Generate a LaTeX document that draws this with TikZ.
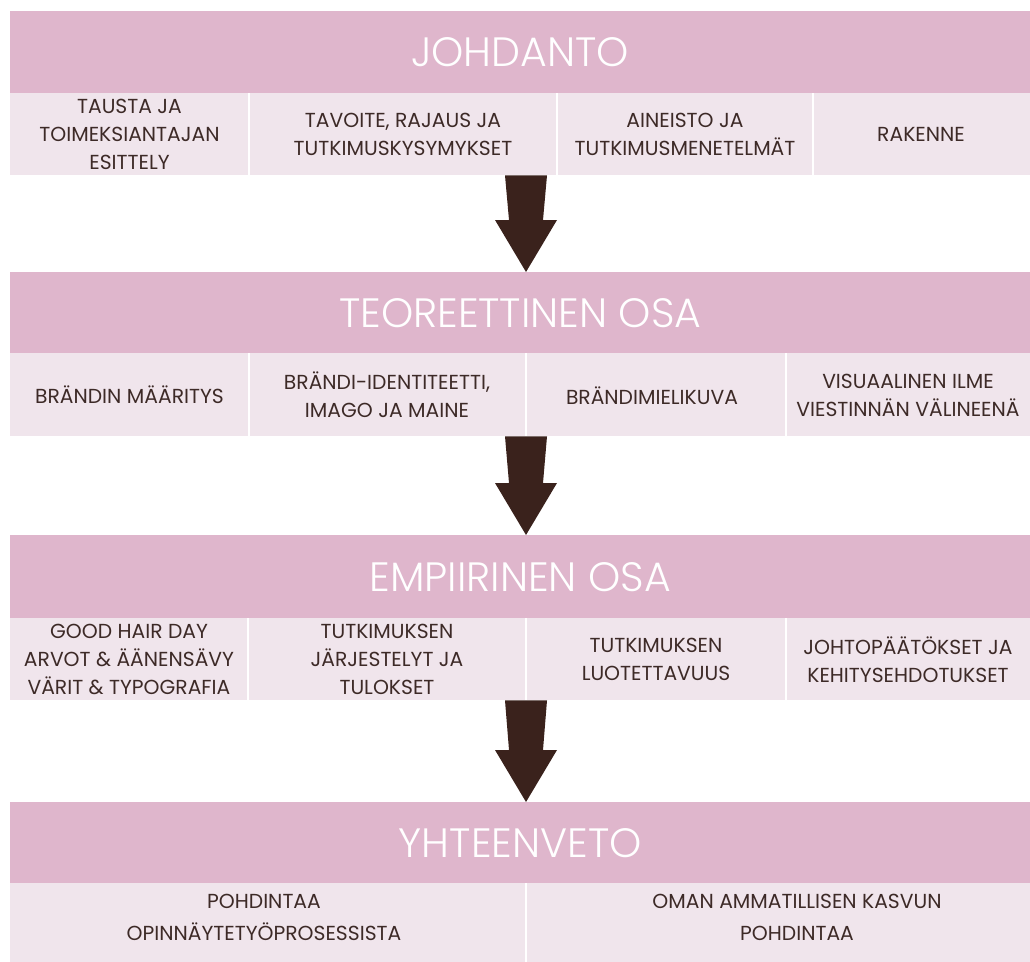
\documentclass[tikz,border=0pt]{standalone}
\usepackage{fontspec}
\setmainfont{Poppins}
\newfontfamily\headfont{Poppins Light}
\newfontfamily\cellfont{Poppins}
\usetikzlibrary{calc}
\definecolor{hdr}{HTML}{DFB6CC}
\definecolor{cellbg}{HTML}{F0E5EC}
\definecolor{arr}{HTML}{3A221C}
\definecolor{txt}{HTML}{3D2A27}
\begin{document}
\begin{tikzpicture}[x=1pt,y=-1pt,
  header/.style={fill=hdr, anchor=north west, inner sep=0pt, minimum width=1020pt,
    text=white, font=\headfont\fontsize{41}{41}\selectfont},
  cellband/.style={fill=cellbg, anchor=north west, inner sep=0pt, minimum width=1020pt},
  celltext/.style={text=txt, align=center, inner sep=0pt, font=\cellfont\fontsize{20.3}{28}\selectfont},
  lasttext/.style={text=txt, align=center, inner sep=0pt, font=\cellfont\fontsize{20.3}{32}\selectfont},
  divider/.style={white, line width=2pt},
  bigarrow/.style={fill=arr}
]
\useasboundingbox (0,0) rectangle (1030,961);
\fill[white] (0,0) rectangle (1030,961);
\clip (0,0) rectangle (1030,961);

% ---------- Band 1
\node[header, minimum height=82pt] (h1) at (10,11) {JOHDANTO};
\node[cellband, minimum height=82pt] (c1) at (10,93) {};
\draw[divider] (249,93) -- (249,175);
\draw[divider] (557,93) -- (557,175);
\draw[divider] (813,93) -- (813,175);
\node[celltext] (t11) at (129.5,134) {TAUSTA JA\\TOIMEKSIANTAJAN\\ESITTELY};
\node[celltext] (t12) at (403,134) {TAVOITE, RAJAUS JA\\TUTKIMUSKYSYMYKSET};
\node[celltext] (t13) at (685,134) {AINEISTO JA\\TUTKIMUSMENETELMÄT};
\node[celltext] (t14) at (921,134) {RAKENNE};

% ---------- Band 2
\node[header, minimum height=81pt] (h2) at (10,272) {TEOREETTINEN OSA};
\node[cellband, minimum height=83pt] (c2) at (10,353) {};
\draw[divider] (249,353) -- (249,436);
\draw[divider] (526,353) -- (526,436);
\draw[divider] (786,353) -- (786,436);
\node[celltext] (t21) at (129.5,395) {BRÄNDIN MÄÄRITYS};
\node[celltext] (t22) at (387,395) {BRÄNDI-IDENTITEETTI,\\IMAGO JA MAINE};
\node[celltext] (t23) at (652,396) {BRÄNDIMIELIKUVA};
\node[celltext] (t24) at (908,395) {VISUAALINEN ILME\\VIESTINNÄN VÄLINEENÄ};

% ---------- Band 3
\node[header, minimum height=83pt] (h3) at (10,535) {EMPIIRINEN OSA};
\node[cellband, minimum height=82pt] (c3) at (10,618) {};
\draw[divider] (248,618) -- (248,700);
\draw[divider] (526,618) -- (526,700);
\draw[divider] (786,618) -- (786,700);
\node[celltext] (t31) at (129,659.5) {GOOD HAIR DAY\\ARVOT \& ÄÄNENSÄVY\\VÄRIT \& TYPOGRAFIA};
\node[celltext] (t32) at (387,659.5) {TUTKIMUKSEN\\JÄRJESTELYT JA\\TULOKSET};
\node[celltext] (t33) at (656,659.5) {TUTKIMUKSEN\\LUOTETTAVUUS};
\node[celltext] (t34) at (908,659.5) {JOHTOPÄÄTÖKSET JA\\KEHITYSEHDOTUKSET};

% ---------- Band 4
\node[header, minimum height=81pt] (h4) at (10,802) {YHTEENVETO};
\node[cellband, minimum height=80pt] (c4) at (10,883) {};
\draw[divider] (526,883) -- (526,963);
\node[lasttext] (t41) at (264,917) {POHDINTAA\\OPINNÄYTETYÖPROSESSISTA};
\node[lasttext] (t42) at (797,917) {OMAN AMMATILLISEN KASVUN\\POHDINTAA};

% ---------- Arrows between bands
\foreach \c/\h/\n in {c1/h2/1, c2/h3/2, c3/h4/3}{
  \coordinate (s\n) at (\c.south -| 526,0);
  \coordinate (e\n) at (\h.north -| 526,0);
  \coordinate (b\n) at ($(e\n)+(0,-52)$);
  \fill[bigarrow] ($(s\n)+(-21,0)$) -- ($(s\n)+(21,0)$) -- ($(b\n)+(17,0)$)
     -- ($(b\n)+(31,0)$) -- (e\n) -- ($(b\n)+(-31,0)$) -- ($(b\n)+(-17,0)$) -- cycle;
}
\end{tikzpicture}
\end{document}
